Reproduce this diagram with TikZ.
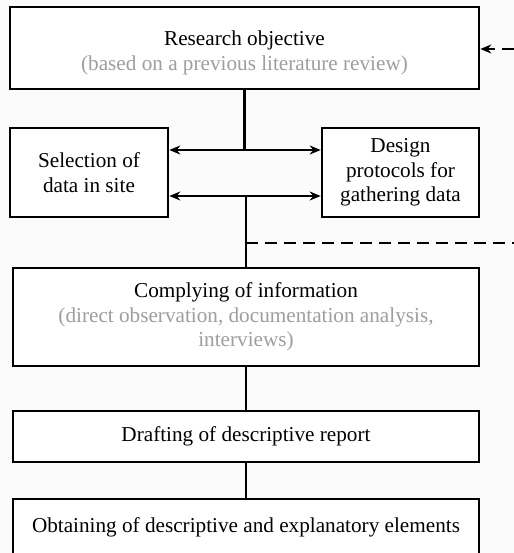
\documentclass[tikz,border=0pt]{standalone}
\usepackage{fontspec}
\setmainfont{Liberation Serif}
\usetikzlibrary{arrows.meta}

\definecolor{notegray}{gray}{0.62}
\definecolor{paper}{gray}{0.985}

\tikzset{
  stage/.style={draw, line width=1.3pt, align=center, inner sep=2pt, fill=white,
                font=\fontsize{10.6}{12.3}\selectfont},
  link/.style={line width=1.3pt},
  feedback/.style={line width=1.3pt, dash pattern=on 6pt off 3.5pt},
}

\begin{document}
\begin{tikzpicture}[x=0.5pt,y=-0.5pt,>={Stealth[length=5.5pt,width=4.5pt]}]
         \fill[paper] (0,0) rectangle (514,553);
         \useasboundingbox (0,0) rectangle (514,553);
         % boxes
         \node[stage, minimum width=234.5pt, minimum height=41pt] (obj) at (244.5,48)
              {\rule{0pt}{12.5pt}Research objective\\ \textcolor{notegray}{(based on a previous literature review)}};
         \node[stage, minimum width=79pt, minimum height=44.5pt] (sel) at (89,172.5)
              {Selection of\\ data in site};
         \node[stage, minimum width=78.5pt, minimum height=44.5pt] (des) at (400.5,172.5)
              {Design\\ protocols for\\ gathering data};
         \node[stage, minimum width=233pt, minimum height=49pt] (comp) at (246,317)
              {Complying of information\\
               \textcolor{notegray}{(direct observation, documentation analysis,}\\
               \textcolor{notegray}{interviews)}};
         \node[stage, minimum width=233pt, minimum height=25.5pt] (draft) at (246,436.5)
              {Drafting of descriptive report};
         \node[stage, minimum width=233pt, minimum height=28pt] (obt) at (246,527)
              {Obtaining of descriptive and explanatory elements};
         % joints
         \coordinate (up) at (246,150) ;
         \coordinate (lo) at (246,196) ;
         \coordinate (fb) at (514,243) ;
         \coordinate (fa) at (514,49) ;
         % connectors
         \draw[link] (obj.south) -- (obj.south |- up) ;
         \draw[link,<->] (sel.east |- up) -- (des.west |- up) ;
         \draw[link,<->] (sel.east |- lo) -- (des.west |- lo) ;
         \draw[link] (comp.north |- lo) -- (comp.north) ;
         \draw[feedback] (comp.north |- fb) -- (fb) ;
         \draw[feedback,->] (fa) -- (obj.east |- fa) ;
         \draw[link] (comp.south) -- (draft.north) ;
         \draw[link] (draft.south) -- (obt.north) ;
      \end{tikzpicture}
\end{document}
